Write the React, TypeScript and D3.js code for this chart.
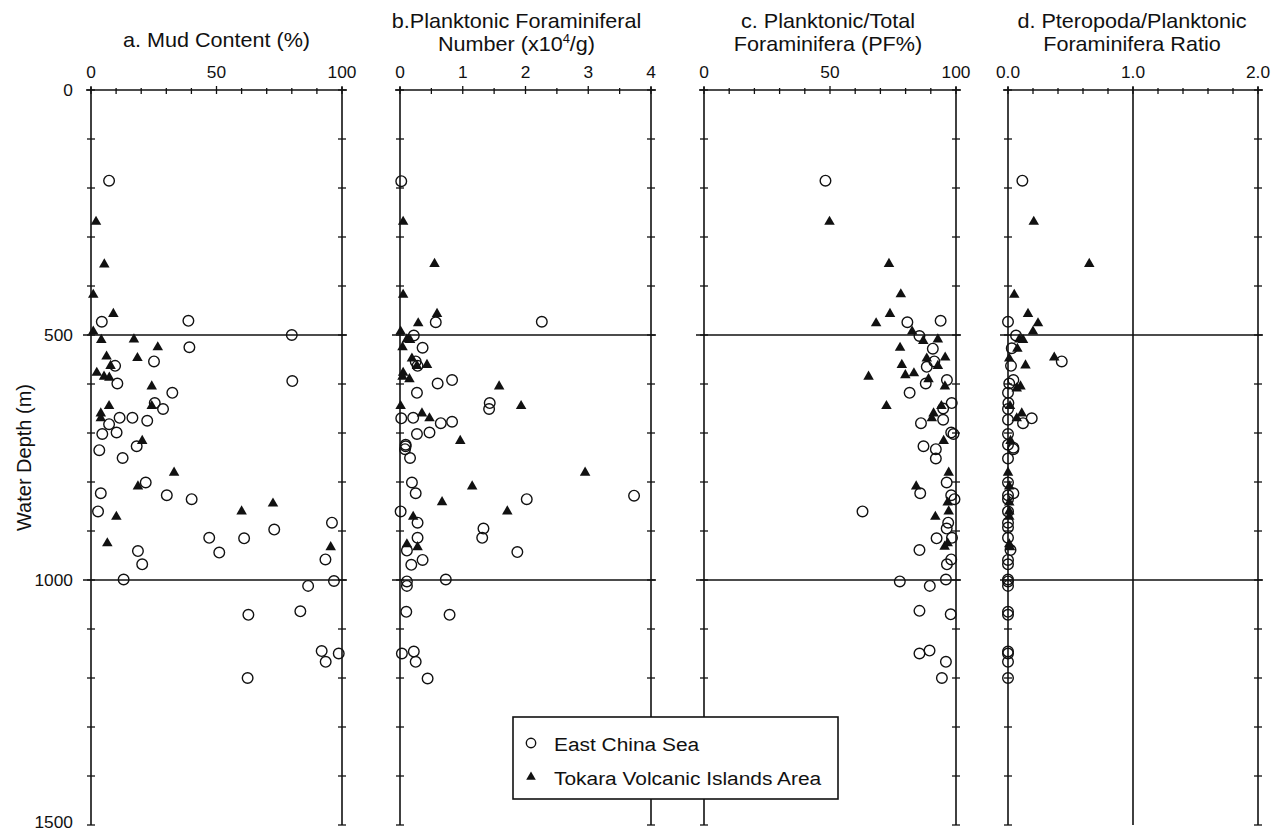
import React from 'react';
import * as d3 from 'd3';

// [value, water depth m]
const mudEcs = [
  [7.2, 185], [4.3, 473], [38.8, 471], [80, 500], [39.2, 525], [25.1, 554], [9.6, 563], [10.5, 599],
  [80.2, 594], [32.4, 618], [25.4, 639], [28.7, 651], [11.4, 669], [16.5, 669], [22.4, 675], [7.2, 682],
  [4.5, 702], [10.2, 699], [3.3, 735], [12.6, 751], [18.2, 727], [21.8, 801], [3.9, 823], [30.2, 827],
  [40.1, 835], [2.8, 860], [96, 883], [73, 897], [47.1, 914], [61, 915], [51.1, 944], [18.7, 941],
  [20.4, 968], [93.4, 958], [13, 999], [96.8, 1002], [86.5, 1012], [62.7, 1071], [83.4, 1064],
  [91.9, 1145], [98.7, 1150], [93.5, 1167], [62.4, 1200],
];
const mudTokara = [
  [2, 269], [5.3, 356], [0.9, 418], [8.9, 457], [0.9, 493], [4.1, 510], [17.1, 509], [26.6, 525],
  [6.2, 544], [18.5, 547], [7.8, 563], [2.3, 577], [5.2, 585], [7.3, 587], [24.2, 605], [7.2, 645],
  [24.2, 645], [3.9, 660], [3.9, 670], [20.4, 716], [33.1, 781], [18.7, 809], [10.1, 871], [6.5, 925],
  [60, 860], [72.5, 844], [95.5, 933],
];

const pfnEcs = [
  [0.02, 186], [0.57, 474], [2.26, 473], [0.22, 501], [0.36, 526], [0.25, 554], [0.28, 563], [0.6, 599],
  [0.83, 592], [0.27, 618], [1.43, 639], [1.42, 651], [0.02, 670], [0.21, 669], [0.65, 680], [0.83, 677],
  [0.27, 702], [0.47, 699], [0.09, 724], [0.09, 727], [0.08, 733], [0.16, 751], [0.19, 801], [0.25, 823],
  [2.02, 835], [3.73, 828], [0.01, 860], [0.28, 883], [1.33, 895], [1.31, 914], [0.28, 914], [1.87, 943],
  [0.11, 940], [0.36, 959], [0.18, 969], [0.73, 999], [0.11, 1003], [0.11, 1012], [0.1, 1065],
  [0.79, 1071], [0.03, 1150], [0.22, 1146], [0.25, 1167], [0.44, 1201],
];
const pfnTokara = [
  [0.05, 269], [0.55, 355], [0.05, 418], [0.59, 457], [0.29, 476], [0.01, 493], [0.11, 509], [0.16, 510],
  [0.04, 525], [0.19, 548], [0.43, 561], [0.27, 563], [0.05, 577], [0.04, 585], [0.15, 590], [1.58, 605],
  [1.93, 645], [0.01, 645], [0.35, 660], [0.47, 670], [0.96, 716], [2.95, 781], [1.15, 809], [0.67, 841],
  [1.71, 860], [0.21, 871], [0.11, 927], [0.28, 933],
];

const pfEcs = [
  [48.2, 185], [80.7, 474], [93.9, 471], [85.5, 502], [90.8, 528], [91.4, 554], [88.4, 565], [96.4, 592],
  [88, 599], [81.6, 618], [98.3, 639], [94.9, 650], [94.9, 673], [86.1, 680], [98.1, 699], [99, 702],
  [87.1, 727], [92, 733], [92, 752], [96.3, 801], [85.8, 823], [98.1, 827], [99.4, 835], [62.9, 860],
  [96.9, 883], [96.3, 895], [92.3, 915], [98.4, 914], [85.5, 939], [98.1, 958], [96.4, 968], [96, 999],
  [77.7, 1003], [89.6, 1012], [85.5, 1063], [97.9, 1070], [85.5, 1150], [89.5, 1144], [96, 1167],
  [94.4, 1200],
];
const pfTokara = [
  [49.8, 269], [73.4, 355], [78.1, 417], [73.8, 457], [68.3, 476], [82.6, 493], [87, 512], [92.8, 509],
  [77.8, 526], [88.4, 548], [95.7, 546], [78.5, 561], [92.8, 563], [79.9, 582], [83.3, 578], [65.3, 585],
  [89.1, 590], [95.6, 605], [72.4, 645], [94.2, 645], [91.1, 660], [90.4, 670], [95.1, 716], [97.1, 781],
  [84.2, 809], [96.7, 842], [97.1, 860], [91.8, 871], [95.5, 932], [96.7, 925],
];

const ppEcs = [
  [0.115, 185], [0, 473], [0.064, 501], [0.43, 554], [0.03, 527], [0.024, 563], [0.043, 592], [0.01, 599],
  [0, 618], [0.003, 639], [0, 651], [0.19, 670], [0.12, 680], [0, 673], [0, 702], [0.043, 730], [0, 724],
  [0.043, 733], [0, 752], [0, 801], [0.043, 823], [0, 827], [0, 835], [0, 860], [0, 883], [0, 893],
  [0, 914], [0.02, 939], [0, 959], [0, 968], [0, 999], [0, 1003], [0, 1012], [0, 1065], [0, 1071],
  [0, 1146], [0, 1150], [0, 1167], [0, 1200],
];
const ppTokara = [
  [0.206, 269], [0.65, 355], [0.05, 418], [0.16, 457], [0.24, 476], [0.2, 493], [0.09, 509], [0.12, 510],
  [0.075, 528], [0.37, 546], [0.14, 562], [0.01, 548], [0.1, 605], [0.07, 609], [0.016, 645], [0.11, 660],
  [0.07, 670], [0.02, 716], [0, 781], [0.01, 809], [0.01, 842], [0.01, 860], [0.01, 871], [0.01, 927],
  [0.016, 933],
];

const depthTicks = [0, 500, 1000, 1500];
const legendLabels = ['East China Sea', 'Tokara Volcanic Islands Area'];

const FONT = '"Liberation Sans", Arial, Helvetica, sans-serif';
const INK = '#111';

const panels = [
  { x0: 91, x1: 342, domain: [0, 100], major: [0, 50, 100], step: 10, fmt: (d) => String(d), ecs: mudEcs, tok: mudTokara, vlines: [], titleShift: 0, title: [['a. Mud Content (%)']] },
  { x0: 400, x1: 651, domain: [0, 4], major: [0, 1, 2, 3, 4], step: 0.5, fmt: (d) => String(d), ecs: pfnEcs, tok: pfnTokara, vlines: [], titleShift: -9, title: [['b.Planktonic Foraminiferal'], ['Number (x10', '4', '/g)']] },
  { x0: 704, x1: 956, domain: [0, 100], major: [0, 50, 100], step: 10, fmt: (d) => String(d), ecs: pfEcs, tok: pfTokara, vlines: [], titleShift: -2, title: [['c. Planktonic/Total'], ['Foraminifera (PF%)']] },
  { x0: 1008, x1: 1258, domain: [0, 2], major: [0, 1, 2], step: 0.2, fmt: d3.format('.1f'), ecs: ppEcs, tok: ppTokara, vlines: [1], titleShift: -1, title: [['d. Pteropoda/Planktonic'], ['Foraminifera Ratio']] },
];

const yScale = d3.scaleLinear().domain([0, 1500]).range([90, 825]);
const triPath = d3.symbol(d3.symbolTriangle, 48)();
const triSmall = d3.symbol(d3.symbolTriangle, 40)();

// text drawn a little wider than the font, like the scanned figure
const SText = ({ x, y, sx = 1, size, anchor = 'start', baseline = 'auto', children }) => (
  <text transform={`translate(${x},${y}) scale(${sx},1)`} textAnchor={anchor} dominantBaseline={baseline} fontSize={size}>
    {children}
  </text>
);

const Panel = ({ p }) => {
  const x = d3.scaleLinear().domain(p.domain).range([p.x0, p.x1]);
  const minorX = d3.range(p.domain[0], p.domain[1] + p.step / 2, p.step);
  const minorY = d3.range(0, 1501, 100);
  const cx = (p.x0 + p.x1) / 2 + p.titleShift;
  const lines = p.title;
  return (
    <g>
      {lines.map((ln, i) => (
        <SText key={i} x={cx} y={lines.length === 1 ? 47 : 28 + i * 23} sx={1.08} size={20} anchor="middle">
          {ln.length === 1 ? ln[0] : (
            <>
              {ln[0]}
              <tspan dy={-8} fontSize={12}>{ln[1]}</tspan>
              <tspan dy={8}>{ln[2]}</tspan>
            </>
          )}
        </SText>
      ))}
      {p.major.map((t) => (
        <SText key={'l' + t} x={x(t)} y={78} sx={1.05} size={16.5} anchor="middle">{p.fmt(t)}</SText>
      ))}
      <line x1={p.x0 - 5} x2={p.x1 + 5} y1={yScale(0)} y2={yScale(0)} stroke={INK} strokeWidth={1.6} />
      <line x1={p.x0} x2={p.x0} y1={yScale(0) - 3} y2={yScale(1500)} stroke={INK} strokeWidth={1.6} />
      <line x1={p.x1} x2={p.x1} y1={yScale(0) - 3} y2={yScale(1500)} stroke={INK} strokeWidth={1.6} />
      {p.vlines.map((v) => (
        <line key={'v' + v} x1={x(v)} x2={x(v)} y1={yScale(0) - 3} y2={yScale(1500)} stroke={INK} strokeWidth={1.6} />
      ))}
      {[500, 1000].map((d) => (
        <line key={'h' + d} x1={p.x0 - 8} x2={p.x1 + 5} y1={yScale(d)} y2={yScale(d)} stroke={INK} strokeWidth={1.6} />
      ))}
      {minorX.map((t, i) => (
        <line key={'mx' + i} x1={x(t)} x2={x(t)} y1={yScale(0) - (p.major.includes(+t.toFixed(3)) ? 4 : 2)} y2={yScale(0) + 4} stroke={INK} strokeWidth={1.3} />
      ))}
      {minorY.map((d) => (
        <g key={'my' + d}>
          <line x1={p.x0 - 4} x2={p.x0 + 4} y1={yScale(d)} y2={yScale(d)} stroke={INK} strokeWidth={1.3} />
          <line x1={p.x1 - 4} x2={p.x1 + 4} y1={yScale(d)} y2={yScale(d)} stroke={INK} strokeWidth={1.3} />
        </g>
      ))}
      {p.ecs.map(([v, d], i) => (
        <circle key={'c' + i} cx={x(v)} cy={yScale(d)} r={5.3} fill="none" stroke={INK} strokeWidth={1.4} />
      ))}
      {p.tok.map(([v, d], i) => (
        <path key={'t' + i} d={triPath} transform={`translate(${x(v)},${yScale(d)})`} fill={INK} />
      ))}
    </g>
  );
};

export default function App() {
  return (
    <svg width={1272} height={832} style={{ position: 'absolute', left: 0, top: 0, background: '#fff' }} fontFamily={FONT} fill={INK}>
      <rect width={1272} height={832} fill="#fff" />
      {depthTicks.map((d) => (
        <SText key={d} x={73} y={Math.min(yScale(d) + 6, 828)} sx={1.05} size={16.5} anchor="end">{d}</SText>
      ))}
      <text transform={`translate(24, ${yScale(750)}) rotate(-90)`} textAnchor="middle" dominantBaseline="central" fontSize={20}>
        Water Depth (m)
      </text>
      {panels.map((p, i) => <Panel key={i} p={p} />)}
      <g>
        <rect x={513} y={717} width={325} height={82} fill="#fff" stroke={INK} strokeWidth={1.6} />
        <circle cx={531} cy={743} r={4.7} fill="none" stroke={INK} strokeWidth={1.4} />
        <path d={triSmall} transform="translate(531,777)" fill={INK} />
        <SText x={554} y={744} sx={1.1} size={19} baseline="central">{legendLabels[0]}</SText>
        <SText x={554} y={778} sx={1.1} size={19} baseline="central">{legendLabels[1]}</SText>
      </g>
    </svg>
  );
}
